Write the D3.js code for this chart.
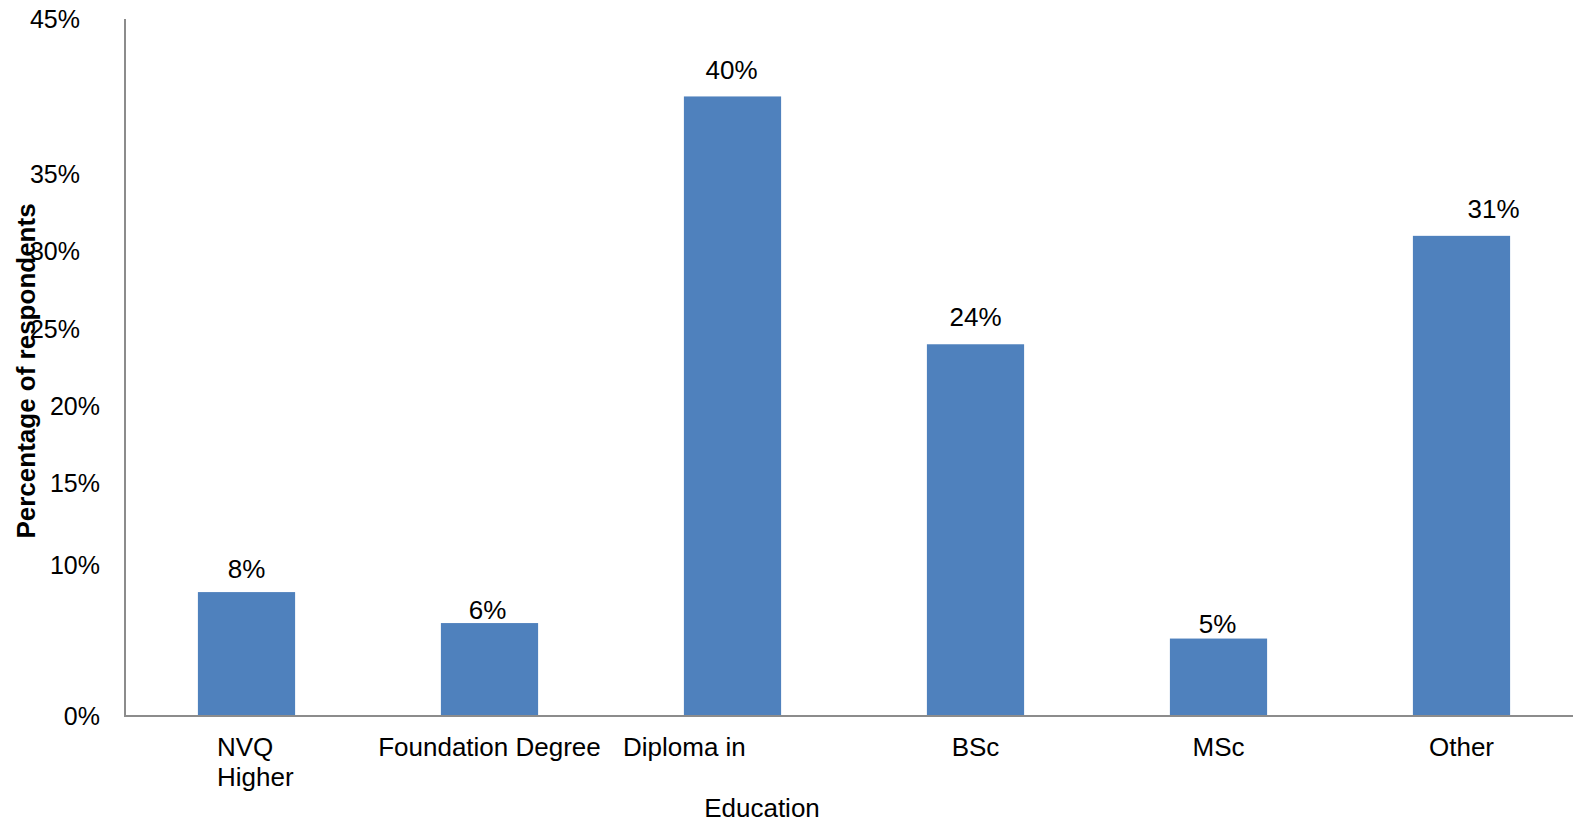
<!DOCTYPE html>
<html>
<head>
<meta charset="utf-8">
<script src="https://cdn.jsdelivr.net/npm/d3@7"></script>
<style>
  html, body { margin: 0; padding: 0; background: #fff; }
  svg { display: block; font-family: "Liberation Sans", Arial, sans-serif; }
</style>
</head>
<body>
<svg id="chart" width="1573" height="824"></svg>
<script>
// Respondents by highest education level
const categories = ["NVQ Higher", "Foundation Degree", "Diploma in", "BSc", "MSc", "Other"];
const values = [8, 6, 40, 24, 5, 31];
const tickValues = [0, 10, 15, 20, 25, 30, 35, 45];
const tickLabels = ["0%", "10%", "15%", "20%", "25%", "30%", "35%", "45%"];

const svg = d3.select("#chart");
const margin = { left: 125, top: 19, bottom: 716 };
const plotRight = 1583;

// value label placement: gap above the bar top, and sideways nudge
const labelGap = { "NVQ Higher": 14, "Foundation Degree": 4, "Diploma in": 17, "BSc": 18, "MSc": 6, "Other": 18 };
const labelNudge = { "NVQ Higher": 0, "Foundation Degree": -2, "Diploma in": -1, "BSc": 0, "MSc": -1, "Other": 32 };

const x = d3.scaleBand()
  .domain(categories)
  .range([margin.left, plotRight])
  .paddingInner(0.6)
  .paddingOuter(0.3);

const y = d3.scaleLinear().domain([0, 45]).range([margin.bottom, margin.top]);

// Bars
svg.append("g").selectAll("rect")
  .data(values)
  .join("rect")
  .attr("x", (d, i) => x(categories[i]))
  .attr("width", x.bandwidth())
  .attr("y", d => y(d))
  .attr("height", d => y(0) - y(d))
  .attr("fill", "#4F81BD");

// Value labels
svg.append("g").selectAll("text")
  .data(values)
  .join("text")
  .attr("x", (d, i) => x(categories[i]) + x.bandwidth() / 2 + labelNudge[categories[i]])
  .attr("y", (d, i) => y(d) - labelGap[categories[i]])
  .attr("text-anchor", "middle")
  .attr("font-size", 26)
  .attr("fill", "#000")
  .text(d => d + "%");

// Axis lines
svg.append("line")
  .attr("x1", margin.left).attr("x2", margin.left)
  .attr("y1", y(45)).attr("y2", y(0))
  .attr("stroke", "#8c8c8c").attr("stroke-width", 2);
svg.append("line")
  .attr("x1", margin.left - 1).attr("x2", 1573)
  .attr("y1", y(0)).attr("y2", y(0))
  .attr("stroke", "#8c8c8c").attr("stroke-width", 2);

// Y tick labels (upper labels sit further left)
svg.append("g").selectAll("text")
  .data(tickValues)
  .join("text")
  .attr("x", d => d >= 25 ? 80 : 100)
  .attr("y", d => y(d) + (d === 10 ? 4 : 0))
  .attr("dy", "0.35em")
  .attr("text-anchor", "end")
  .attr("font-size", 25)
  .attr("fill", "#000")
  .text((d, i) => tickLabels[i]);

// Category labels
const catG = svg.append("g");
const labelY = 756;
categories.forEach((c, i) => {
  const cx = x(c) + x.bandwidth() / 2;
  if (c === "NVQ Higher") {
    const t = catG.append("text")
      .attr("x", 217).attr("y", labelY)
      .attr("font-size", 26).attr("fill", "#000");
    t.append("tspan").attr("x", 217).text("NVQ");
    t.append("tspan").attr("x", 217).attr("dy", 30).text("Higher");
  } else if (c === "Diploma in") {
    catG.append("text")
      .attr("x", 623).attr("y", labelY)
      .attr("font-size", 26).attr("fill", "#000")
      .text(c);
  } else {
    catG.append("text")
      .attr("x", cx).attr("y", labelY)
      .attr("text-anchor", "middle")
      .attr("font-size", 26).attr("fill", "#000")
      .text(c);
  }
});

// Axis titles
svg.append("text")
  .attr("x", 762).attr("y", 817)
  .attr("text-anchor", "middle")
  .attr("font-size", 26).attr("fill", "#000")
  .text("Education");

svg.append("text")
  .attr("transform", "translate(35,371) rotate(-90)")
  .attr("text-anchor", "middle")
  .attr("font-size", 26).attr("font-weight", "bold").attr("fill", "#000")
  .text("Percentage of respondents");
</script>
</body>
</html>
